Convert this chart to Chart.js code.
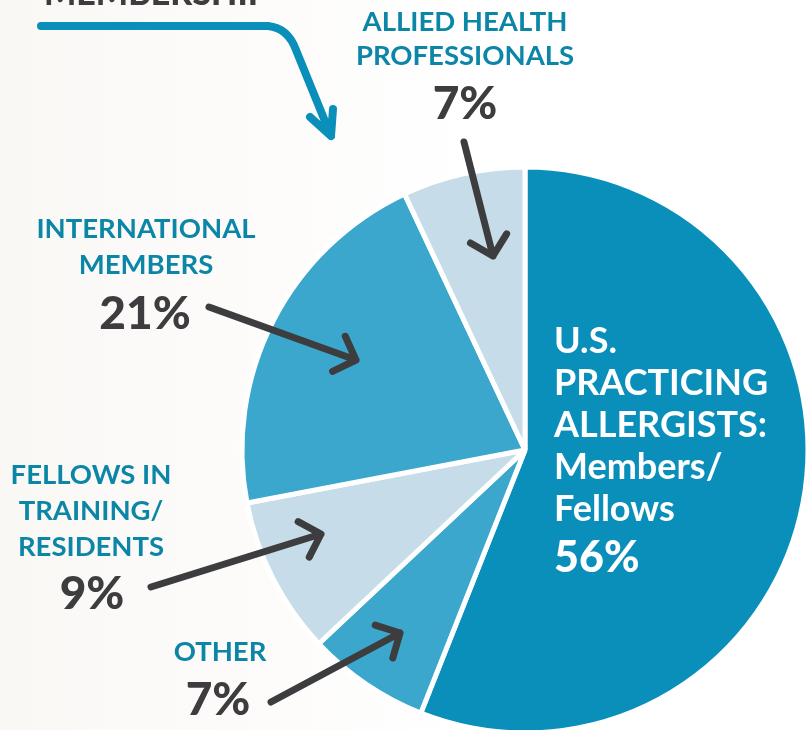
<!DOCTYPE html>
<html>
<head>
<meta charset="utf-8">
<script src="https://cdn.jsdelivr.net/npm/chart.js@4"></script>
<style>
  html, body { margin: 0; padding: 0; overflow: hidden; }
  body { width: 807px; height: 730px; background: linear-gradient(90deg, #faf8f5 0%, #fdfcfb 35%, #ffffff 60%); }
  #wrap { position: relative; width: 808px; height: 733px; }
</style>
</head>
<body>
<div id="wrap"><canvas id="pie"></canvas></div>
<script>
// slices go clockwise from 12 o'clock
const categories = ['U.S. Practicing Allergists: Members/Fellows', 'Other', 'Fellows in Training/Residents', 'International Members', 'Allied Health Professionals'];
const shares = [56, 7, 9, 21, 7];
const sliceColors = ['#0a8fba', '#3ba7cc', '#c6dde9', '#3ba7cc', '#c6dde9'];

const TEAL = '#0b86a6';
const DARK = '#3d3d3f';
const FONT = 'Lato, "DejaVu Sans", sans-serif';

function arrow(ctx, x1, y1, x2, y2, color, w, head) {
    const a = Math.atan2(y2 - y1, x2 - x1);
    ctx.save();
    ctx.strokeStyle = color;
    ctx.lineWidth = w;
    ctx.lineCap = 'round';
    ctx.lineJoin = 'round';
    ctx.beginPath();
    ctx.moveTo(x1, y1);
    ctx.lineTo(x2, y2);
    ctx.moveTo(x2 - head * Math.cos(a - 0.8), y2 - head * Math.sin(a - 0.8));
    ctx.lineTo(x2, y2);
    ctx.lineTo(x2 - head * Math.cos(a + 0.8), y2 - head * Math.sin(a + 0.8));
    ctx.stroke();
    ctx.restore();
}

function lines(ctx, list, x, y0, step, size, color, align, weight) {
    ctx.save();
    ctx.font = (weight || 'bold') + ' ' + size + 'px ' + FONT;
    ctx.fillStyle = color;
    ctx.textAlign = align;
    ctx.textBaseline = 'middle';
    list.forEach((t, i) => ctx.fillText(t, x, y0 + i * step));
    ctx.restore();
}

const annotations = {
    id: 'annotations',
    afterDraw(chart) {
        const ctx = chart.ctx;
        // heading fragment at the top edge
        ctx.save();
        ctx.font = '900 34px ' + FONT;
        ctx.fillStyle = DARK;
        ctx.textBaseline = 'alphabetic';
        ctx.fillText('MEMBERSHIP', 44, 5);
        ctx.restore();

        // blue bent arrow
        ctx.save();
        ctx.strokeStyle = '#0a8fba';
        ctx.lineWidth = 8;
        ctx.lineCap = 'round';
        ctx.lineJoin = 'round';
        ctx.beginPath();
        ctx.moveTo(41, 26);
        ctx.lineTo(268, 26);
        ctx.quadraticCurveTo(288, 28, 296, 50);
        ctx.lineTo(331, 136);
        ctx.moveTo(310, 117);
        ctx.lineTo(331, 136);
        ctx.lineTo(333, 109);
        ctx.stroke();
        ctx.restore();

        // category labels
        lines(ctx, ['ALLIED HEALTH', 'PROFESSIONALS'], 465, 22, 34, 27.5, TEAL, 'center');
        lines(ctx, ['7%'], 465, 104, 0, 46, DARK, 'center', '900');
        lines(ctx, ['INTERNATIONAL', 'MEMBERS'], 146, 229, 36, 27.5, TEAL, 'center');
        lines(ctx, ['21%'], 145, 314, 0, 46, DARK, 'center', '900');
        lines(ctx, ['FELLOWS IN', 'TRAINING/', 'RESIDENTS'], 91, 475, 36, 27.5, TEAL, 'center');
        lines(ctx, ['9%'], 92, 594, 0, 46, DARK, 'center', '900');
        lines(ctx, ['OTHER'], 220, 652, 0, 27.5, TEAL, 'center');
        lines(ctx, ['7%'], 218, 700, 0, 46, DARK, 'center', '900');

        // label pointers
        arrow(ctx, 464, 142, 493, 256, DARK, 7, 26);
        arrow(ctx, 209, 307, 356, 360, DARK, 7, 26);
        arrow(ctx, 151, 587, 321, 534, DARK, 7, 26);
        arrow(ctx, 271, 702, 400, 633, DARK, 7, 26);

        // text on the large slice
        lines(ctx, ['U.S.', 'PRACTICING', 'ALLERGISTS:', 'Members/', 'Fellows'], 554, 341, 42, 36, '#ffffff', 'left');
        lines(ctx, ['56%'], 554, 558, 0, 43, '#ffffff', 'left', '900');
    }
};

new Chart(document.getElementById('pie'), {
    type: 'pie',
    data: {
        labels: categories,
        datasets: [{
            data: shares,
            backgroundColor: sliceColors,
            borderColor: '#ffffff',
            borderWidth: 5,
            hoverOffset: 0
        }]
    },
    options: {
        responsive: true,
        maintainAspectRatio: false,
        animation: false,
        radius: 283,
        layout: { padding: { left: 242, top: 167, right: 0, bottom: 0 } },
        plugins: {
            legend: { display: false },
            tooltip: { enabled: false }
        },
        events: []
    },
    plugins: [annotations]
});
</script>
</body>
</html>
